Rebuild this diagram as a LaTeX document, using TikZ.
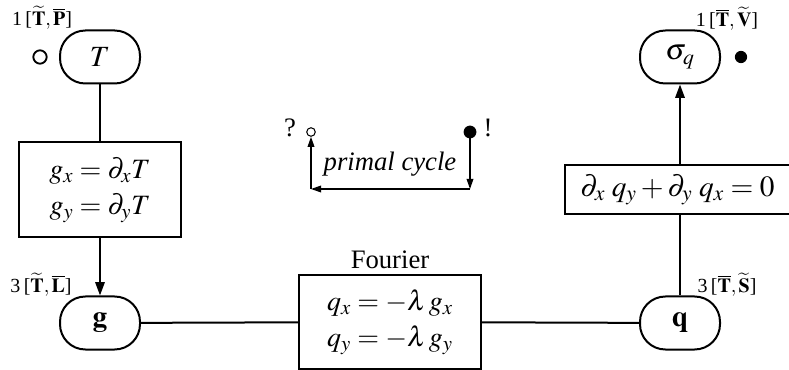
\documentclass[tikz,border=0pt]{standalone}
\usepackage{mathptmx}
\usepackage[no-math]{fontspec}
\setmainfont{Liberation Serif}
\usetikzlibrary{arrows.meta}
\tikzset{
  pill/.style={draw, line width=1.5pt, rounded corners=19pt, minimum width=60pt, minimum height=39.75pt, inner sep=0pt, font=\fontsize{22}{26}\selectfont},
  eqbox/.style={draw, line width=1.5pt, inner sep=0pt, align=center, font=\fontsize{21}{25}\selectfont},
  tag/.style={inner sep=0pt, font=\fontsize{15}{17}\selectfont},
  conn/.style={line width=1.5pt},
  arr/.style={line width=1.5pt, -{Triangle[length=10pt,width=7pt]}},
  carr/.style={line width=0.9pt, -{Triangle[length=7.5pt,width=5pt]}},
  big/.style={inner sep=0pt, font=\fontsize{20}{24}\selectfont}
}
\begin{document}
\begin{tikzpicture}[x=0.75pt,y=-0.75pt]
\useasboundingbox (0,0) rectangle (789,370);
% nodes
\node[pill] (T) at (100,57) {$T$};
\node[pill] (s) at (680,57) {$\sigma_q$};
\node[pill] (g) at (100,323) {$\mathbf{g}$};
\node[pill] (q) at (680,323) {$\mathbf{q}$};
\node[eqbox, minimum width=121pt, minimum height=71.25pt] (gb) at (100,190)
  {$g_x=\partial_x T$\\[2pt]$g_y=\partial_y T$};
\node[eqbox, minimum width=136.5pt, minimum height=70pt] (fb) at (390,322)
  {$q_x=-\lambda\, g_x$\\[2pt]$q_y=-\lambda\, g_y$};
\node[eqbox, minimum width=168.75pt, minimum height=36.75pt, font=\fontsize{22}{26}\selectfont] (eb) at (677.5,189.5)
  {$\partial_x\;q_y+\partial_y\;q_x=0$};
\node[big, anchor=south] (four) at ([yshift=4pt]fb.north) {Fourier};
% tags
\node[tag] (t1) at (42,18) {1\,[$\widetilde{\mathbf{T}},\overline{\mathbf{P}}$]};
\node[tag] (t2) at (727,19) {1\,[$\overline{\mathbf{T}},\widetilde{\mathbf{V}}$]};
\node[tag] (t3) at (41,285) {3\,[$\widetilde{\mathbf{T}},\overline{\mathbf{L}}$]};
\node[tag] (t4) at (727,285) {3\,[$\overline{\mathbf{T}},\widetilde{\mathbf{S}}$]};
% markers
\draw[line width=1.4pt] (40,57) circle[radius=5pt];
\fill (741,57) circle[radius=4.6pt];
% connectors
\draw[conn] (T) -- (gb);
\draw[arr] (gb) -- (g);
\draw[conn] (g) -- (fb);
\draw[conn] (fb) -- (q);
\draw[conn] (q.north) -- (q.north |- eb.south);
\draw[arr] (s.south |- eb.north) -- (s.south);
% primal cycle
\coordinate (pa) at (311,132);
\coordinate (pb) at (470,132);
\coordinate (pc) at (470,189);
\coordinate (pd) at (311,189);
\draw[line width=0.8pt] (pa) circle[radius=3.2pt];
\fill (pb) circle[radius=4.8pt];
\node[big] (qm) at (290,128) {?};
\node[big] (ex) at (488,128) {!};
\draw[carr] (pb) -- (pc);
\draw[carr] (pc) -- (pd);
\draw[carr] (pd) -- ([yshift=-3.6pt]pa);
\node[big] (pcl) at (390,164) {\itshape primal cycle};
\end{tikzpicture}
\end{document}
